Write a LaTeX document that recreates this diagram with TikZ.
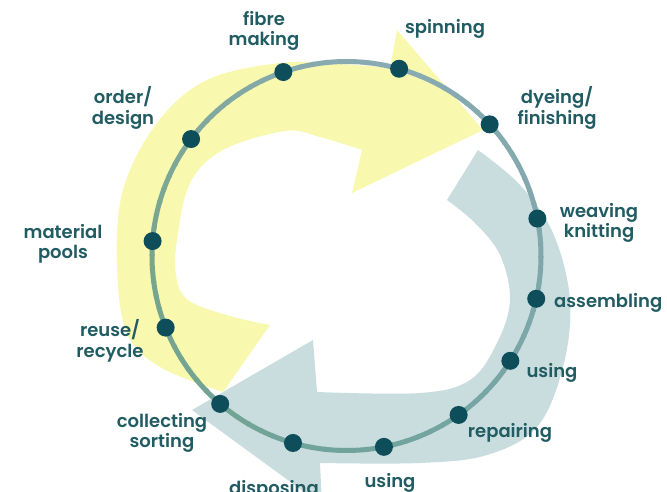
\documentclass[tikz,border=0pt]{standalone}
\usepackage{fontspec}
\setmainfont{Poppins}
\newfontfamily\lblfont{Poppins SemiBold}
\usetikzlibrary{calc}
\definecolor{bandyellow}{HTML}{F8F8AE}
\definecolor{bandgray}{HTML}{C9DDDF}
\definecolor{dotc}{HTML}{0E4E5B}
\definecolor{txtc}{HTML}{215C62}
\definecolor{ringR}{HTML}{80A8AC}
\definecolor{ringT}{HTML}{6FA39B}
\definecolor{ringG}{HTML}{78A68C}
\definecolor{ringB}{HTML}{8AAAB3}
\begin{document}
\begin{tikzpicture}[x=1pt,y=-1pt,
  stagedot/.style={circle,fill=dotc,inner sep=0pt,minimum size=18pt},
  lbl/.style={font=\lblfont\fontsize{18}{20.5}\selectfont, text=txtc, align=center, inner sep=0pt},
]
\useasboundingbox (0,0) rectangle (667,492);
\clip (0,0) rectangle (667,492);
\coordinate (c) at (346.5,256);

% yellow arrow band
\fill[bandyellow] plot[smooth,tension=0.6] coordinates {(223,392) (160,367) (127,333) (117,267) (123,190) (157,123) (207,80) (280,63) (340,64) (390,68)}
  -- (397,30) -- (483,130) -- (352,193) -- (362,150)
  -- plot[smooth,tension=0.6] coordinates {(362,150) (320,137) (285,131) (223,150) (190,183) (177,240) (176,275) (188,300) (230,316) (270,325)}
  -- cycle;

% gray arrow band
\fill[bandgray] plot[smooth,tension=0.6] coordinates {(478,150) (520,185) (553,233) (570,300) (563,367) (537,427) (487,455) (420,463) (320,463)}
  -- (322,505) -- (192,410) -- (313,340) -- (317,392)
  -- plot[smooth,tension=0.6] coordinates {(317,392) (420,393) (470,380) (497,343) (510,300) (500,255) (475,223) (447,200)}
  -- cycle;

% ring with gentle colour shift
\foreach \a in {0,4,...,356} {
  \pgfmathtruncatemacro\seg{int(\a/90)}
  \pgfmathsetmacro\f{100*(1-(\a-90*\seg)/90)}
  \ifcase\seg
    \colorlet{cA}{ringR}\colorlet{cB}{ringT}
  \or
    \colorlet{cA}{ringT}\colorlet{cB}{ringG}
  \or
    \colorlet{cA}{ringG}\colorlet{cB}{ringB}
  \else
    \colorlet{cA}{ringB}\colorlet{cB}{ringR}
  \fi
  \draw[color=cA!\f!cB, line width=5pt] ($(c)+(\a:194.5)$) arc[start angle=\a, end angle=\a+4.6, radius=194.5];
}

% stage dots
\node[stagedot] (dfibre) at ($(c)+(-108.95:194.5)$) {};
\node[stagedot] (dspin)  at ($(c)+(-74.3:194.5)$) {};
\node[stagedot] (ddye)   at ($(c)+(-42.6:194.5)$) {};
\node[stagedot] (dweave) at ($(c)+(-11.1:194.5)$) {};
\node[stagedot] (dassem) at ($(c)+(12.7:194.5)$) {};
\node[stagedot] (duseA)  at ($(c)+(32.6:194.5)$) {};
\node[stagedot] (drep)   at ($(c)+(54.8:194.5)$) {};
\node[stagedot] (duseB)  at ($(c)+(78.9:194.5)$) {};
\node[stagedot] (ddisp)  at ($(c)+(105.97:194.5)$) {};
\node[stagedot] (dcoll)  at ($(c)+(130.5:194.5)$) {};
\node[stagedot] (dreuse) at ($(c)+(158.4:194.5)$) {};
\node[stagedot] (dmat)   at ($(c)+(184.4:194.5)$) {};
\node[stagedot] (dorder) at ($(c)+(216.96:194.5)$) {};

% labels
\node[lbl] (lfibre) at (264,31) {fibre\\making};
\node[lbl,anchor=base] (lspin) at (445,34) {spinning};
\node[lbl] (ldye) at (557,108) {dyeing/\\finishing};
\node[lbl] (lweave) at (599,223) {weaving\\knitting};
\node[lbl,anchor=base west] (lassem) at (554,307) {assembling};
\node[lbl,anchor=base] (luseA) at (552,377) {using};
\node[lbl,anchor=base] (lrep) at (510,437) {repairing};
\node[lbl,anchor=base] (luseB) at (390,487) {using};
\node[lbl,anchor=base] (ldisp) at (274,494) {disposing};
\node[lbl] (lcoll) at (162,433) {collecting\\sorting};
\node[lbl] (lreuse) at (110,341) {reuse/\\recycle};
\node[lbl] (lmat) at (63,244) {material\\pools};
\node[lbl] (lorder) at (123,108) {order/\\design};
\end{tikzpicture}
\end{document}
